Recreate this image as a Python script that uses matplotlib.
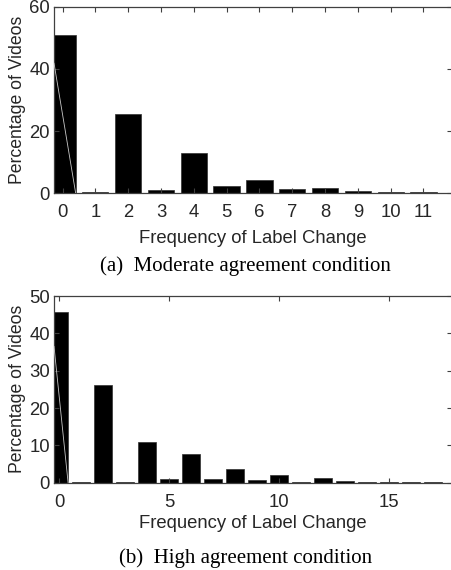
import matplotlib
matplotlib.use('Agg')
import matplotlib.pyplot as plt

# data
moderate_changes = list(range(12))
moderate_pct = [50.9, 0.4, 25.5, 0.9, 13.0, 2.3, 4.3, 1.3, 1.8, 0.6, 0.4, 0.3]

high_changes = list(range(18))
high_pct = [45.8, 0.3, 26.2, 0.2, 10.9, 1.1, 7.7, 1.0, 3.75, 0.6, 2.05, 0.2,
            1.25, 0.5, 0.2, 0.2, 0.2, 0.2]

# faint diagonal stroke drawn over the first bar (rendering artefact in the original)
diag_start = [41.8, 36.5]

plt.rcParams['font.family'] = ['Liberation Sans', 'DejaVu Sans']
txt = '#262626'
axcol = '#404040'

fig = plt.figure(figsize=(4.52, 5.70), dpi=100)
ax1 = fig.add_axes([0.1195, 0.661, 0.8805, 0.3274])
ax2 = fig.add_axes([0.1195, 0.1532, 0.8805, 0.3275])


def style(ax, xlim, ylim, xticks, yticks, diag):
    ax.set_xlim(*xlim)
    ax.set_ylim(*ylim)
    ax.set_xticks(xticks)
    ax.set_yticks(yticks)
    ax.tick_params(direction='in', length=3.5, width=0.8, color=axcol,
                   top=True, right=True, labelsize=13.3, labelcolor=txt)
    ax.tick_params(axis='x', pad=8)
    ax.tick_params(axis='y', pad=3)
    for s in ax.spines.values():
        s.set_color(axcol)
        s.set_linewidth(0.9)
    ax.plot([xlim[0], 0.4], [diag, 0], color='#c8c8c8', lw=0.6, zorder=3)
    ax.set_xlabel('Frequency of Label Change', fontsize=13.3, color=txt)
    ax.set_ylabel('Percentage of Videos', fontsize=12.7, color=txt)
    ax.yaxis.set_label_coords(-0.07, 0.5)


ax1.bar(moderate_changes, moderate_pct, width=0.8, color='black',
        edgecolor='#303030', linewidth=0.5)
style(ax1, (-0.26, 11.87), (0, 60), moderate_changes, [0, 20, 40, 60], diag_start[0])
ax1.xaxis.set_label_coords(0.5, -0.245)
ax1.xaxis.label.set_va('center')

ax2.bar(high_changes, high_pct, width=0.8, color='black',
        edgecolor='#303030', linewidth=0.5)
style(ax2, (-0.24, 17.85), (0, 50), [0, 5, 10, 15], [0, 10, 20, 30, 40, 50], diag_start[1])
ax2.xaxis.set_label_coords(0.5, -0.22)
ax2.xaxis.label.set_va('center')

fig.text(0.543, 0.533, '(a)  Moderate agreement condition', ha='center', va='center',
         fontsize=15, family='Liberation Serif', color='black')
fig.text(0.543, 0.02, '(b)  High agreement condition', ha='center', va='center',
         fontsize=15, family='Liberation Serif', color='black')

plt.savefig('out.png', dpi=100)
